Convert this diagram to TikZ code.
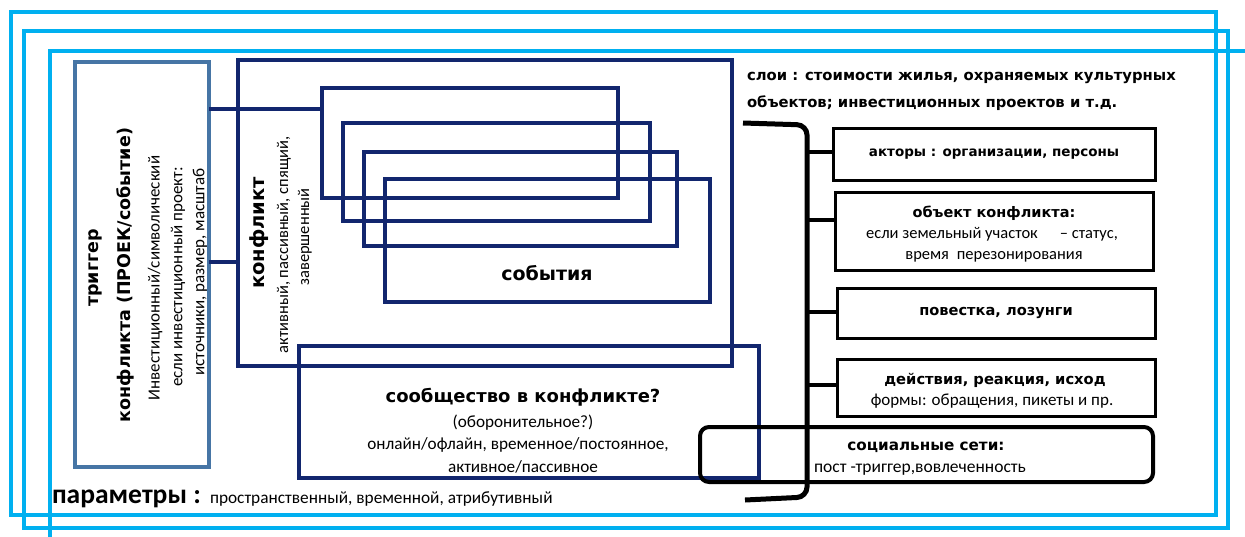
\documentclass[tikz,border=0pt]{standalone}
\usepackage{fontspec}
\setmainfont{Carlito}
\newfontfamily\hf{DejaVu Sans}
\definecolor{fblue}{RGB}{0,176,240}
\definecolor{tblue}{RGB}{70,117,165}
\definecolor{navy}{RGB}{18,38,110}
\newcommand{\fs}[1]{\fontsize{#1}{#1}\selectfont}
\begin{document}
\begin{tikzpicture}[x=1pt,y=-1pt,
  frame/.style={draw=fblue,line width=4.5pt},
  tbox/.style={draw=tblue,line width=4pt,inner sep=0pt,outer sep=0pt,anchor=north west},
  nbox/.style={draw=navy,line width=3.5pt,inner sep=0pt,outer sep=0pt,anchor=north west},
  rbox/.style={draw=black,line width=3pt,inner sep=0pt,outer sep=0pt,anchor=north west,align=center},
  conn/.style={draw=navy,line width=3.5pt},
  brace/.style={draw=black,line width=5pt,rounded corners=10pt},
  branch/.style={draw=black,line width=3.5pt},
  txt/.style={inner sep=0pt,outer sep=0pt},
  hb/.style={txt,font=\hf\bfseries},
]
\useasboundingbox (0,0) rectangle (1245,536);
% frames
\begin{scope}
\clip (0,0) rectangle (1245,536);
\draw[frame] (11,12) rectangle (1216,515);
\draw[frame] (24,31) rectangle (1228,528);
\draw[frame] (50,51) rectangle (1262,552);
\end{scope}

% trigger
\node[tbox,minimum width=134pt,minimum height=405pt] (trig) at (75,62) {};
\node[hb,rotate=90] (tt1) at (95,268) {\fs{17.5}триггер};
\node[hb,rotate=90] (tt2) at (125,275) {\fs{17.5}конфликта (ПРОЕК/событие)};
\node[txt,rotate=90] (tt3) at (155,278) {\fs{17}Инвестиционный/символический};
\node[txt,rotate=90] (tt4) at (178,277) {\fs{17}если инвестиционный проект:};
\node[txt,rotate=90] (tt5) at (200,272) {\fs{17}источники, размер, масштаб};

% conflict
\node[nbox,minimum width=494pt,minimum height=306pt] (conf) at (238,60) {};
\node[hb,rotate=90] (ct1) at (259,233) {\fs{19.5}конфликт};
\node[txt,rotate=90] (ct2) at (284,245) {\fs{16.5}активный, пассивный, спящий,};
\node[txt,rotate=90] (ct3) at (305,237) {\fs{16.5}завершенный};

% events
\node[nbox,minimum width=296pt,minimum height=110pt] (r1) at (322,88) {};
\node[nbox,minimum width=307pt,minimum height=98pt] (r2) at (343,123) {};
\node[nbox,minimum width=313pt,minimum height=94pt] (r3) at (364,152) {};
\node[nbox,minimum width=325pt,minimum height=123pt] (r4) at (385,179) {};
\node[hb] (ev) at (547,273) {\fs{19}события};

% community
\node[nbox,minimum width=460pt,minimum height=132pt] (comm) at (299,346) {};
\node[hb] (cm1) at (523,397) {\fs{18}сообщество в конфликте?};
\node[txt] (cm2) at (523,423) {\fs{17.2}(оборонительное?)};
\node[txt] (cm3) at (518,445) {\fs{17.2}онлайн/офлайн, временное/постоянное,};
\node[txt] (cm4) at (523,467) {\fs{17.2}активное/пассивное};

% connectors from trigger
\draw[conn] (trig.east |- 0,109) -- (r1.west |- 0,109);
\draw[conn] (trig.east |- 0,262) -- (conf.west |- 0,262);

% layers header
\node[hb,anchor=base west] (sl1) at (747,80) {\fs{14.8}слои : стоимости жилья, охраняемых культурных};
\node[hb,anchor=base west] (sl2) at (747,107) {\fs{14.8}объектов; инвестиционных проектов и т.д.};

% right boxes
\node[rbox,minimum width=322pt,minimum height=52pt] (b1) at (833,128) {\hf\bfseries\fs{13.5}акторы : организации, персоны};
\node[rbox,minimum width=318pt,minimum height=78pt] (b2) at (835,192) {};
\node[hb] (b2a) at (994,213) {\fs{14.5}объект конфликта:};
\node[txt] (b2b) at (992,234) {\fs{16.5}если земельный участок\hspace{22pt}– статус,};
\node[txt] (b2c) at (994,257) {\fs{16.5}время\hspace{4pt} перезонирования};
\node[rbox,minimum width=318pt,minimum height=50pt] (b3) at (837,288) {\hf\bfseries\fs{14.6}повестка, лозунги};
\node[rbox,minimum width=318pt,minimum height=57pt] (b4) at (837,359) {};
\node[hb] (b4a) at (995,380) {\fs{14.7}действия, реакция, исход};
\node[txt] (b4b) at (992,401) {\fs{17}формы: обращения, пикеты и пр.};
\node[rbox,minimum width=453pt,minimum height=55pt,line width=4pt,rounded corners=9pt] (b5) at (700,427) {};
\node[hb] (b5a) at (926,447) {\fs{15.2}социальные сети:};
\node[txt] (b5b) at (920,470) {\fs{17.5}пост -триггер,вовлеченность};

% brace
\coordinate (brv) at (807,300);
\draw[brace] (743,123) -- (807,125) -- (807,497) -- (745,500);
\draw[branch] (brv |- 0,152) -- (b1.west |- 0,152);
\draw[branch] (brv |- 0,220) -- (b2.west |- 0,220);
\draw[branch] (brv |- 0,312) -- (b3.west |- 0,312);
\draw[branch] (brv |- 0,385) -- (b4.west |- 0,385);

% parameters
\node[txt,anchor=base west,font=\bfseries] (p1) at (52,503) {\fs{27.5}параметры :};
\node[txt,anchor=base west] (p2) at (210,503) {\fs{17.3}пространственный, временной, атрибутивный};
\end{tikzpicture}
\end{document}
